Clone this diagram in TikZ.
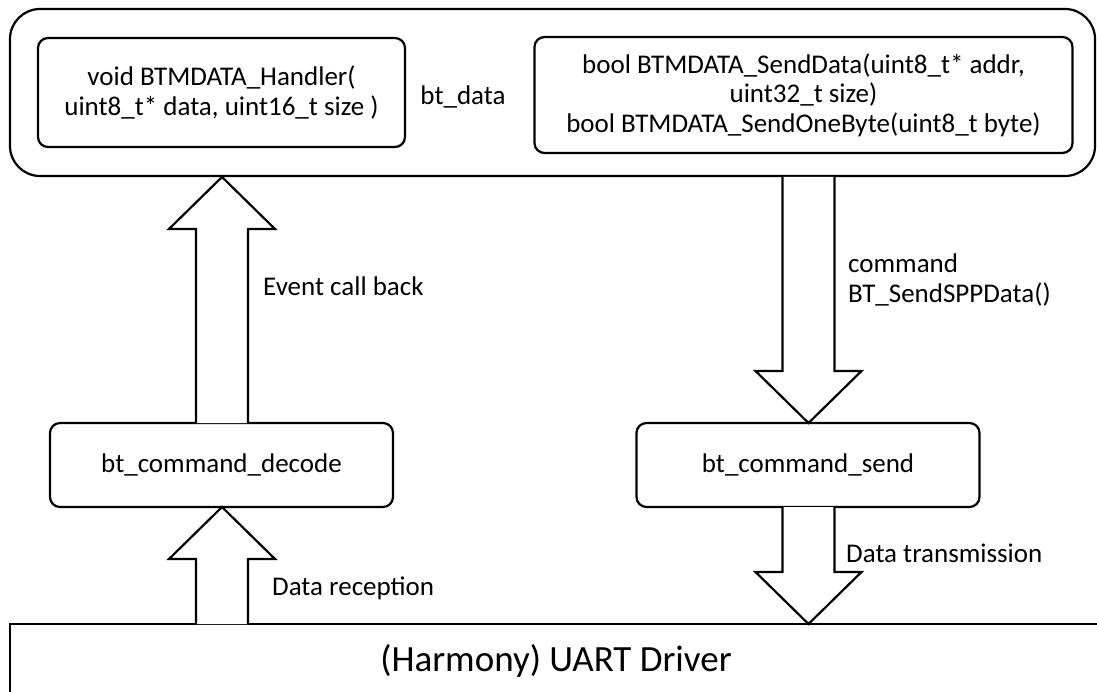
\documentclass[tikz,border=0pt]{standalone}
\usepackage{fontspec}
\setmainfont{Carlito}
\usetikzlibrary{calc}
\tikzset{
  box/.style={draw, line width=2.2pt, rounded corners=10pt, align=center, inner sep=0pt},
  fat/.style={draw, line width=2.2pt, fill=white, line join=miter},
  lbl/.style={anchor=west, align=left, inner sep=0pt, font=\fontsize{27}{30}\selectfont},
  txt/.style={font=\fontsize{27}{29.5}\selectfont}
}
\newcommand{\fatup}[3]{% x, y tail, y tip (tip above)
  \draw[fat] ({#1-26},{#2}) -- ({#1-26},{#3-52}) -- ({#1-53},{#3-52}) -- ({#1},{#3}) -- ({#1+53},{#3-52}) -- ({#1+26},{#3-52}) -- ({#1+26},{#2});}
\newcommand{\fatdown}[3]{% x, y tail, y tip (tip below)
  \draw[fat] ({#1-26},{#2}) -- ({#1-26},{#3+52}) -- ({#1-53},{#3+52}) -- ({#1},{#3}) -- ({#1+53},{#3+52}) -- ({#1+26},{#3+52}) -- ({#1+26},{#2});}
\begin{document}
\begin{tikzpicture}[x=1pt,y=1pt]
\useasboundingbox (0,0) rectangle (1097,-692);
% outer box
\node[draw, line width=2.2pt, rounded corners=30pt, minimum width=1085pt, minimum height=167pt, inner sep=0pt] (outer) at (552.5,-92.5) {};
% handler
\node[box, minimum width=367pt, minimum height=109pt, txt] (handler) at (221.5,-92.5) {void BTMDATA\_Handler(\\uint8\_t* data, uint16\_t size )};
\node[txt, inner sep=0pt] (btdata) at (463,-97) {bt\_data};
% send functions
\node[box, minimum width=538pt, minimum height=116pt, txt] (sendfn) at (803.5,-95) {bool BTMDATA\_SendData(uint8\_t* addr,\\uint32\_t size)\\bool BTMDATA\_SendOneByte(uint8\_t byte)};
% middle boxes
\node[box, minimum width=343pt, minimum height=84pt, txt] (decode) at (221.5,-465) {bt\_command\_decode};
\node[box, minimum width=343pt, minimum height=84pt, txt] (send) at (808,-465) {bt\_command\_send};
% UART driver (open to the right and bottom)
\node[inner sep=0pt, font=\fontsize{37}{42}\selectfont] (uart) at (556,-661) {(Harmony) UART Driver};
\draw[line width=2.2pt] (10,-700) -- (10,-624) coordinate (uartnw) -- (1105,-624) coordinate (uartne);
% block arrows
\fatup{222}{-423}{-177}
\fatdown{808.5}{-177}{-423}
\fatup{222}{-624}{-507}
\fatdown{808.5}{-507}{-624}
% labels
\node[lbl] (lcb) at (263,-286) {Event call back};
\node[lbl] (lcmd) at (848,-280) {command\\BT\_SendSPPData()};
\node[lbl] (lrx) at (272,-588) {Data reception};
\node[lbl] (ltx) at (846,-553) {Data transmission};
\end{tikzpicture}
\end{document}
